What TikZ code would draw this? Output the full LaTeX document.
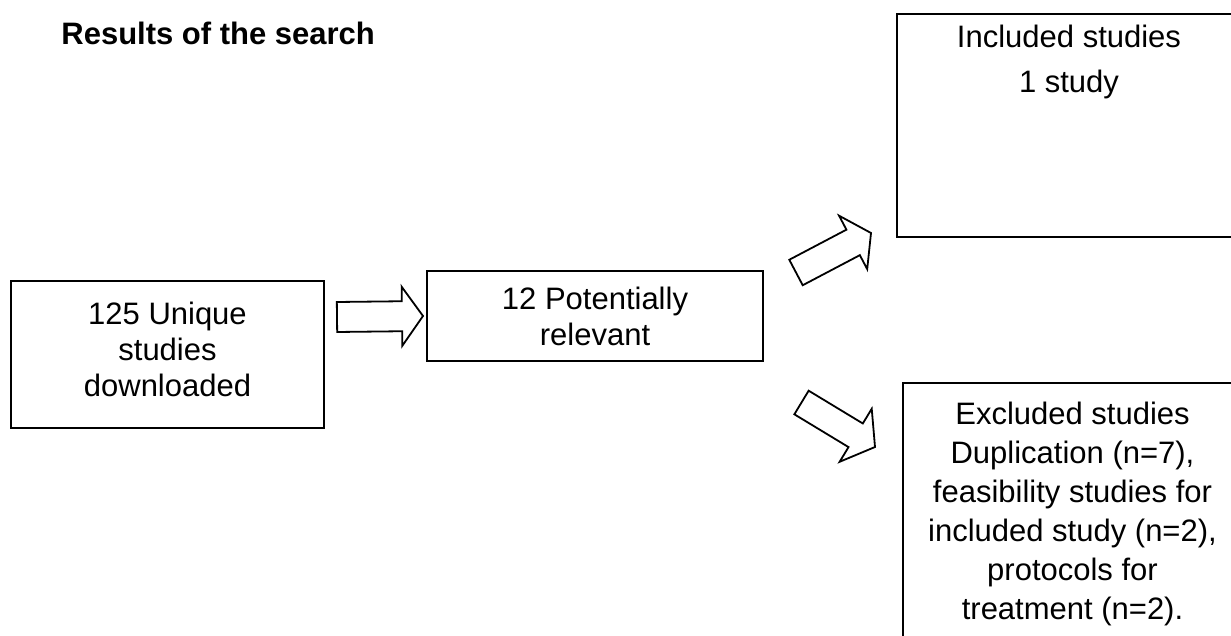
\documentclass[tikz,border=0pt]{standalone}
\usepackage{fontspec}
\setmainfont{Liberation Sans}
\usetikzlibrary{calc}

\tikzset{
	box/.style={draw, line width=0.9pt, inner sep=0pt},
	boxtext/.style={align=center, inner sep=0pt, font=\fontsize{15.5}{18}\selectfont},
	blockarrow/.style={draw, line width=0.9pt, line join=miter},
}

\begin{document}
\begin{tikzpicture}[x=0.5pt, y=-0.5pt]
	\useasboundingbox (0,0) rectangle (1231,636);
	\clip (0,0) rectangle (1231,636);
	
	% title
	\node[anchor=base west, inner sep=0pt, font=\fontsize{15.5}{18}\selectfont\bfseries] (title) at (61,45) {Results of the search};
	
	% search
	\node[box, minimum width=156.5pt, minimum height=73.5pt] (unique) at (167.5,354.5) {};
	\node[boxtext] (uniquetxt) at ($(unique)+(0,-5)$) {125 Unique\\studies\\downloaded};
	\node[box, boxtext, minimum width=168pt, minimum height=45pt] (relevant) at (595,316) {12 Potentially\\relevant};
	
	% included / excluded, running off the page
	\node[box, minimum width=173pt, minimum height=111.5pt, anchor=north west] (included) at (896,13) {};
	\node[boxtext, font=\fontsize{15.5}{22.5}\selectfont, anchor=north] (includedtxt) at (1069,25) {Included studies\\1 study};
	
	\node[box, minimum width=170.5pt, minimum height=144pt, anchor=north west] (excluded) at (902,382) {};
	\node[boxtext, font=\fontsize{15.5}{19.5}\selectfont, anchor=north] (excludedtxt) at (1072.5,402) {Excluded studies\\Duplication (n=7),\\feasibility studies for\\included study (n=2),\\protocols for\\treatment (n=2).};
	
	% block arrows
	\coordinate (tail1) at (337,317);   \coordinate (tip1) at (423,316);
	\coordinate (tail2) at (796,272.5); \coordinate (tip2) at (871,233);
	\coordinate (tail3) at (801.5,402.5); \coordinate (tip3) at (875,447);
	
	\foreach \tail/\tip/\shaft/\head/\len in {tail1/tip1/7.5pt/14.75pt/10.5pt, tail2/tip2/7.2pt/15.1pt/10.1pt, tail3/tip3/6.9pt/15.5pt/11.3pt}{
		\coordinate (hb) at ($(\tip)!\len!(\tail)$);
		\draw[blockarrow] ($(\tail)!\shaft!90:(\tip)$) -- ($(hb)!\shaft!90:(\tip)$) -- ($(hb)!\head!90:(\tip)$) -- (\tip)
			-- ($(hb)!\head!-90:(\tip)$) -- ($(hb)!\shaft!-90:(\tip)$) -- ($(\tail)!\shaft!-90:(\tip)$) -- cycle;
	}
	
\end{tikzpicture}
\end{document}
